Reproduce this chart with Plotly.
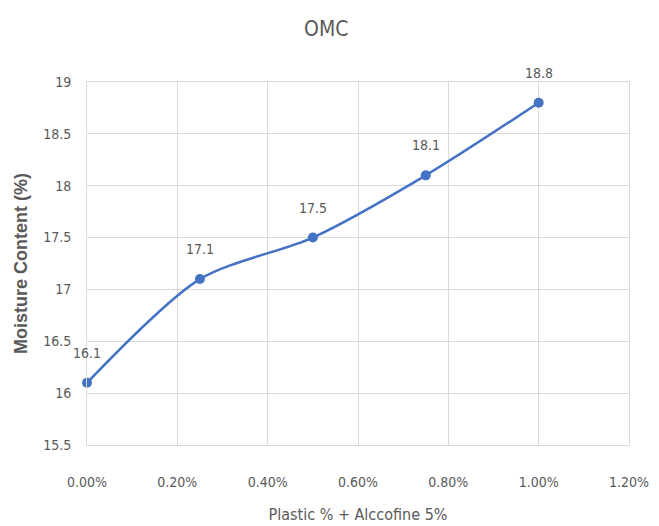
import plotly.graph_objects as go

# Optimum moisture content vs plastic dosage (with 5% Alccofine)
plastic_pct = [0.00, 0.25, 0.50, 0.75, 1.00]
omc_values = [16.1, 17.1, 17.5, 18.1, 18.8]
value_labels = ["16.1", "17.1", "17.5", "18.1", "18.8"]

x_ticks = [0.0, 0.2, 0.4, 0.6, 0.8, 1.0, 1.2]
y_ticks = [15.5, 16, 16.5, 17, 17.5, 18, 18.5, 19]

narrow = "Liberation Sans Narrow, Arial Narrow, DejaVu Sans Condensed, sans-serif"
grey = "#595959"
grid = "#d9d9d9"
blue = "#4472C4"

fig = go.Figure(
    go.Scatter(
        x=plastic_pct,
        y=omc_values,
        mode="lines+markers",
        line=dict(color=blue, width=2.5, shape="spline", smoothing=0.8),
        marker=dict(color=blue, size=10),
        cliponaxis=False,
        hoverinfo="x+y",
    )
)

# value labels sit well above each marker
for xv, yv, lab in zip(plastic_pct, omc_values, value_labels):
    fig.add_annotation(
        x=xv,
        y=yv,
        text=lab,
        showarrow=False,
        yshift=30,
        font=dict(family=narrow, size=14, color=grey),
    )

fig.update_layout(
    width=659,
    height=526,
    margin=dict(l=87, r=30, t=82, b=81),
    paper_bgcolor="white",
    plot_bgcolor="white",
    showlegend=False,
    title=dict(
        text="OMC",
        x=0.495,
        xanchor="center",
        y=0.945,
        yanchor="middle",
        font=dict(family=narrow, size=21, color=grey),
    ),
)

fig.update_xaxes(
    range=[0, 1.2],
    automargin=False,
    tickvals=x_ticks,
    ticktext=[f"{v:.2f}%" for v in x_ticks],
    tickfont=dict(family=narrow, size=14, color=grey),
    ticklabelstandoff=24,
    showgrid=True,
    gridcolor=grid,
    gridwidth=1,
    zeroline=False,
    showline=True,
    linecolor=grid,
    linewidth=1,
    mirror=True,
    ticks="",
    title=dict(
        text="Plastic % + Alccofine 5%",
        font=dict(family=narrow, size=16, color=grey),
        standoff=20,
    ),
)

fig.update_yaxes(
    range=[15.5, 19],
    automargin=False,
    tickvals=y_ticks,
    ticktext=[f"{v:g}" for v in y_ticks],
    tickfont=dict(family=narrow, size=14, color=grey),
    ticklabelstandoff=12,
    showgrid=True,
    gridcolor=grid,
    gridwidth=1,
    zeroline=False,
    showline=True,
    linecolor=grid,
    linewidth=1,
    mirror=True,
    ticks="",
    title=dict(
        text="<b>Moisture Content (%)</b>",
        font=dict(family="Liberation Sans, Arial, sans-serif", size=18, color=grey),
        standoff=10,
    ),
)

fig.write_html("out.html")
